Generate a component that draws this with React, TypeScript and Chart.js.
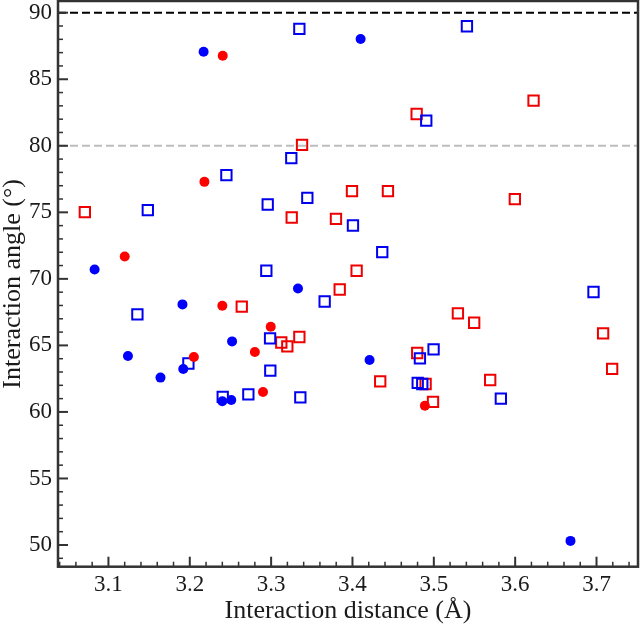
import React, { useEffect, useRef } from 'react';
import { Chart, registerables } from 'chart.js';

Chart.register(...registerables);

// ---- Data (Interaction distance in Å, interaction angle in °) ----
const blueCircleX = [3.217, 3.410, 3.083, 3.191, 3.124, 3.164, 3.192, 3.240, 3.251, 3.333, 3.252, 3.421, 3.668];
const blueCircleY = [87.07, 88.03, 70.71, 68.08, 64.20, 62.58, 63.23, 60.80, 60.90, 69.28, 65.30, 63.90, 50.31];

const redCircleX = [3.2405, 3.218, 3.120, 3.205, 3.240, 3.2995, 3.280, 3.290, 3.489];
const redCircleY = [86.77, 77.29, 71.68, 64.13, 67.98, 66.40, 64.50, 61.50, 60.47];

const blueSquareX = [3.3347, 3.5407, 3.4907, 3.3248, 3.2450, 3.3445, 3.2958, 3.1484, 3.4006, 3.4366, 3.2941, 3.3658, 3.1356, 3.2987, 3.2990, 3.1983, 3.2405, 3.2720, 3.3359, 3.4997, 3.4829, 3.4802, 3.4858, 3.5824, 3.6963];
const blueSquareY = [88.78, 88.98, 81.89, 79.07, 77.79, 76.09, 75.59, 75.16, 74.01, 72.01, 70.61, 68.30, 67.33, 65.53, 63.10, 63.64, 61.13, 61.32, 61.10, 64.70, 64.02, 62.18, 62.10, 61.00, 69.01];

const redSquareX = [3.0710, 3.3380, 3.4789, 3.6226, 3.3994, 3.4436, 3.5996, 3.3253, 3.3797, 3.4051, 3.3843, 3.2639, 3.3347, 3.3125, 3.3199, 3.4341, 3.5296, 3.5496, 3.7081, 3.7192, 3.5693, 3.4990, 3.4796, 3.4899];
const redSquareY = [75.01, 80.07, 82.39, 83.39, 76.59, 76.59, 75.99, 74.61, 74.51, 70.61, 69.20, 67.91, 65.63, 65.22, 64.93, 62.30, 67.40, 66.70, 65.90, 63.23, 62.40, 60.76, 64.43, 62.10];

const refLineAngles = [90, 80];

const X_MIN = 3.038;
const X_MAX = 3.751;
const Y_MIN = 48.37;
const Y_MAX = 90.88;
const X_STEP = 0.1;
const Y_STEP = 5;

const toPoints = (xs: number[], ys: number[]) => xs.map((x, i) => ({ x, y: ys[i] }));

const FONT_FAMILY = '"Liberation Serif", "Times New Roman", serif';

const frameAndTicks = {
  id: 'frameAndTicks',
  afterDraw(chart: any) {
    const { ctx, chartArea: a, scales } = chart;
    const xs = scales.x;
    const ys = scales.y;
    ctx.save();
    ctx.strokeStyle = '#333333';
    // x minor/major ticks (inward)
    for (let i = Math.ceil(X_MIN / 0.02 - 1e-9); i * 0.02 <= X_MAX + 1e-9; i++) {
      const major = i % 5 === 0;
      const px = xs.getPixelForValue(i * 0.02);
      ctx.lineWidth = major ? 2 : 1.5;
      ctx.beginPath();
      ctx.moveTo(px, a.bottom);
      ctx.lineTo(px, a.bottom - (major ? 10 : 5));
      ctx.stroke();
    }
    // y minor/major ticks (inward)
    for (let v = Math.ceil(Y_MIN); v <= Y_MAX; v++) {
      const major = v % 5 === 0;
      const py = ys.getPixelForValue(v);
      ctx.lineWidth = major ? 2 : 1.5;
      ctx.beginPath();
      ctx.moveTo(a.left, py);
      ctx.lineTo(a.left + (major ? 10 : 5), py);
      ctx.stroke();
    }
    ctx.lineWidth = 2.5;
    ctx.strokeRect(a.left, a.top, a.right - a.left, a.bottom - a.top);
    ctx.restore();
  },
};

export default function App() {
  const canvasRef = useRef<HTMLCanvasElement | null>(null);

  useEffect(() => {
    if (!canvasRef.current) return;
    const refColors = ['#000000', '#bdbdbd'];
    const chart = new Chart(canvasRef.current, {
      type: 'scatter',
      data: {
        datasets: [
          {
            label: 'blue circles',
            data: toPoints(blueCircleX, blueCircleY),
            pointStyle: 'circle',
            pointRadius: 5,
            borderWidth: 0,
            backgroundColor: '#0000ff',
            borderColor: '#0000ff',
          },
          {
            label: 'red circles',
            data: toPoints(redCircleX, redCircleY),
            pointStyle: 'circle',
            pointRadius: 5,
            borderWidth: 0,
            backgroundColor: '#ff0000',
            borderColor: '#ff0000',
          },
          {
            label: 'blue squares',
            data: toPoints(blueSquareX, blueSquareY),
            pointStyle: 'rect',
            pointRadius: 7.3,
            borderWidth: 2,
            backgroundColor: 'rgba(0,0,0,0)',
            borderColor: '#0000ee',
          },
          {
            label: 'red squares',
            data: toPoints(redSquareX, redSquareY),
            pointStyle: 'rect',
            pointRadius: 7.3,
            borderWidth: 2,
            backgroundColor: 'rgba(0,0,0,0)',
            borderColor: '#ee0000',
          },
          ...refLineAngles.map((ang, i) => ({
            label: 'ref ' + ang,
            data: [{ x: X_MIN, y: ang }, { x: X_MAX, y: ang }],
            showLine: true,
            pointRadius: 0,
            borderColor: refColors[i],
            borderWidth: 2,
            borderDash: [8, 4],
            backgroundColor: refColors[i],
          })),
        ],
      },
      options: {
        animation: false,
        responsive: false,
        events: [],
        layout: { autoPadding: false, padding: { top: 1, right: 2, left: 0, bottom: 0 } },
        plugins: {
          legend: { display: false },
          tooltip: { enabled: false },
        },
        scales: {
          x: {
            type: 'linear',
            min: X_MIN,
            max: X_MAX,
            grid: { display: false, drawTicks: false },
            border: { display: false },
            ticks: {
              stepSize: X_STEP,
              includeBounds: false,
              autoSkip: false,
              maxRotation: 0,
              padding: 4,
              color: '#1a1a1a',
              font: { family: FONT_FAMILY, size: 23 },
              callback: (v: any) => Number(v).toFixed(1),
            },
            title: {
              display: true,
              text: 'Interaction distance (Å)',
              color: '#1a1a1a',
              font: { family: FONT_FAMILY, size: 26, lineHeight: 1 },
              padding: { top: 0, bottom: 2 },
            },
            afterFit: (scale: any) => {
              scale.height = 59.3;
              scale.paddingLeft = 0;
              scale.paddingRight = 0;
            },
          },
          y: {
            type: 'linear',
            min: Y_MIN,
            max: Y_MAX,
            grid: { display: false, drawTicks: false },
            border: { display: false },
            ticks: {
              stepSize: Y_STEP,
              includeBounds: false,
              autoSkip: false,
              padding: 6,
              color: '#1a1a1a',
              font: { family: FONT_FAMILY, size: 23 },
              callback: (v: any) => String(Math.round(Number(v))),
            },
            title: {
              display: true,
              text: 'Interaction angle (°)',
              color: '#1a1a1a',
              font: { family: FONT_FAMILY, size: 26, lineHeight: 1 },
              padding: { top: 0, bottom: 0 },
            },
            afterFit: (scale: any) => {
              scale.width = 58;
              scale.paddingTop = 0;
              scale.paddingBottom = 0;
            },
          },
        },
      },
      plugins: [frameAndTicks],
    });
    return () => chart.destroy();
  }, []);

  return (
    <div style={{ position: 'absolute', left: 0, top: 0, width: 640, height: 626, background: '#ffffff' }}>
      <canvas ref={canvasRef} width={640} height={626} style={{ display: 'block' }} />
    </div>
  );
}
